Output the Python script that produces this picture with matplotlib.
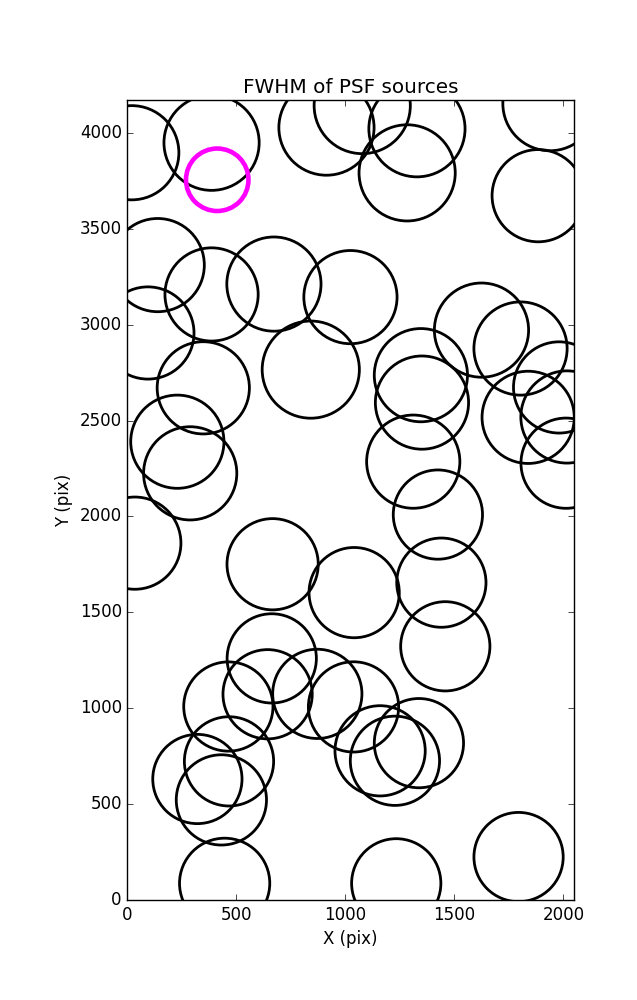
import numpy as np
import matplotlib
matplotlib.use("Agg")
import matplotlib.pyplot as plt

# source positions (pix) and FWHM (pix)
x_src = [20, 386, 913, 1077, 1328, 1283, 1884, 1938, 139, 94,
         386, 672, 1023, 348, 841, 229, 288, 34, 666, 1040,
         1624, 1803, 1980, 2016, 1838, 2012, 1346, 1351, 1311, 1424,
         1440, 1458, 1037, 1159, 1227, 1337, 1233, 1794, 871, 662,
         643, 463, 466, 321, 431, 446]
y_src = [3897, 3949, 4028, 4143, 4022, 3792, 3673, 4153, 3311, 2957,
         3158, 3212, 3144, 2671, 2766, 2390, 2225, 1861, 1751, 1603,
         2972, 2876, 2673, 2519, 2517, 2278, 2737, 2594, 2286, 2010,
         1655, 1323, 1007, 778, 726, 818, 87, 224, 1075, 1260,
         1073, 1009, 723, 631, 522, 87]
fwhm_src = [4.75, 4.8, 4.8, 4.85, 4.85, 4.85, 4.65, 4.75, 4.7, 4.65,
            4.7, 4.75, 4.7, 4.65, 4.9, 4.7, 4.7, 4.65, 4.6, 4.55,
            4.75, 4.7, 4.6, 4.65, 4.65, 4.55, 4.7, 4.7, 4.7, 4.5,
            4.5, 4.5, 4.55, 4.55, 4.5, 4.5, 4.5, 4.5, 4.5, 4.5,
            4.5, 4.5, 4.5, 4.5, 4.55, 4.55]

# highlighted source
x_sel = [412]
y_sel = [3756]
fwhm_sel = [3.15]

NX, NY = 2048, 4172
SCALE = 14.28  # marker points per FWHM pixel

plt.style.use("classic")
plt.rcParams["figure.facecolor"] = "white"
plt.rcParams["savefig.facecolor"] = "white"

fig = plt.figure(figsize=(6.37, 10), dpi=100)
ax = fig.add_axes([0.2, 0.1, 0.701, 0.8])

ax.scatter(x_src, y_src, s=(np.array(fwhm_src) * SCALE) ** 2,
           facecolors="none", edgecolors="k", linewidths=2.0)
ax.scatter(x_sel, y_sel, s=(np.array(fwhm_sel) * SCALE) ** 2,
           facecolors="none", edgecolors="magenta", linewidths=3.3, zorder=3)

ax.set_xlim(0, NX)
ax.set_ylim(0, NY)
ax.set_xticks(np.arange(0, 2001, 500))
ax.set_yticks(np.arange(0, 4001, 500))
ax.set_title("FWHM of PSF sources")
ax.set_xlabel("X (pix)")
ax.set_ylabel("Y (pix)")

fig.savefig("out.png", dpi=100)
